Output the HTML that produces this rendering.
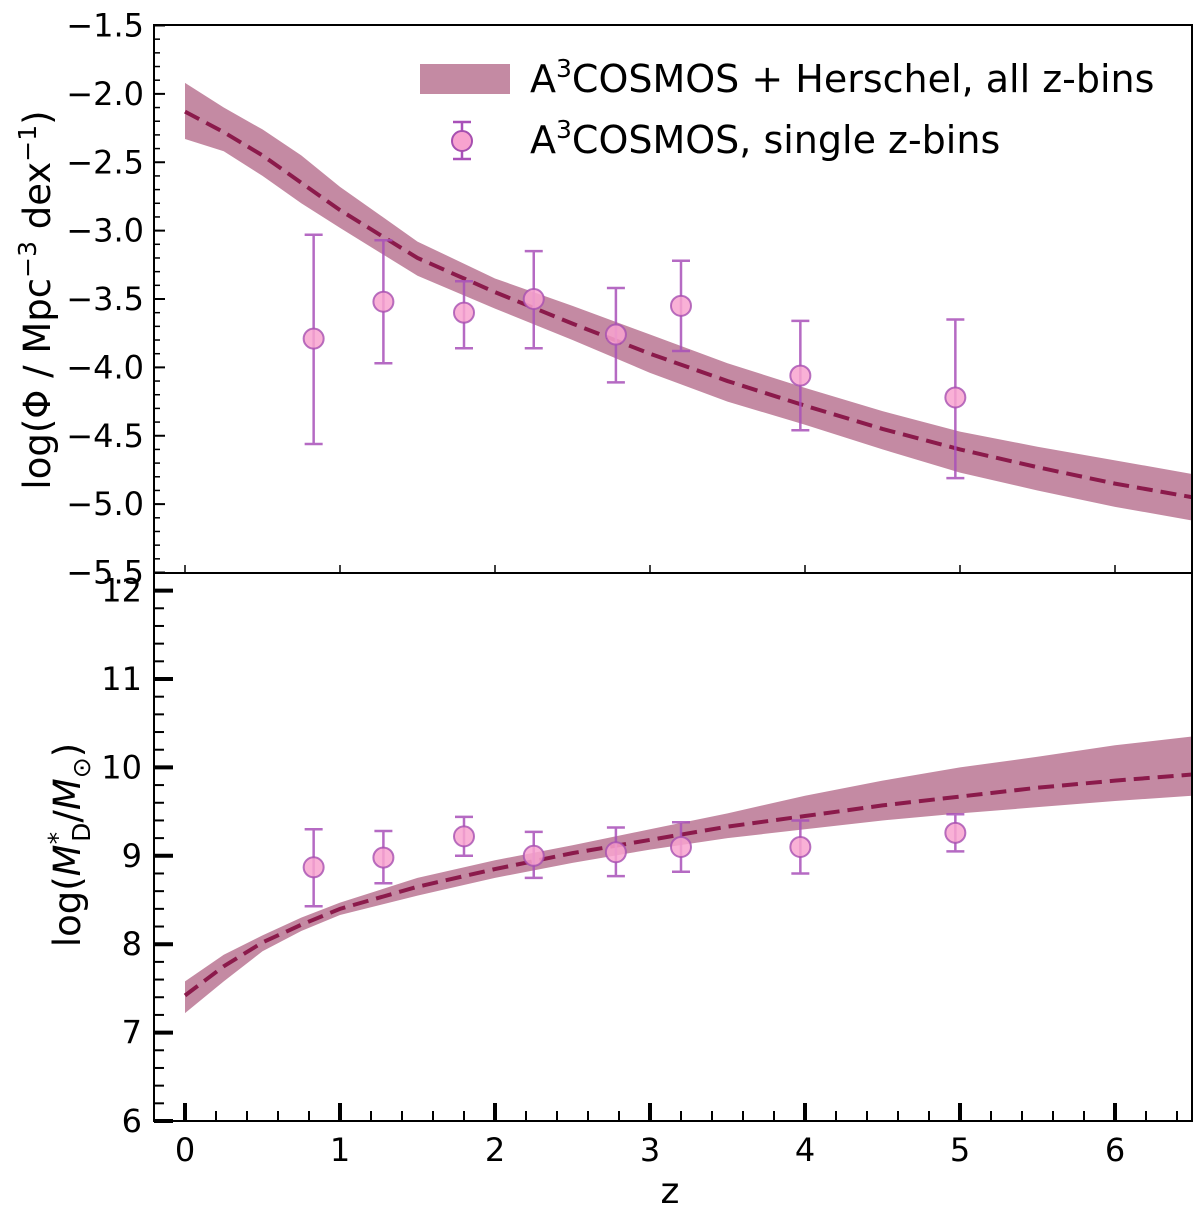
<!DOCTYPE html>
<html><head><meta charset="utf-8"><style>
body{margin:0;background:#fff}
svg{display:block;font-family:"DejaVu Sans","Liberation Sans",sans-serif}
</style></head><body>
<svg id="chart" width="1200" height="1213" viewBox="0 0 1200 1213" xmlns="http://www.w3.org/2000/svg"></svg>
<script>
const gridZ=[0,0.25,0.5,0.75,1,1.5,2,2.5,3,3.5,4,4.5,5,5.5,6,6.5];
const phiMed=[-2.13,-2.28,-2.45,-2.65,-2.85,-3.2,-3.45,-3.68,-3.9,-4.1,-4.28,-4.45,-4.6,-4.73,-4.85,-4.95];
const phiUp=[-1.92,-2.1,-2.26,-2.45,-2.68,-3.08,-3.35,-3.55,-3.76,-3.97,-4.15,-4.32,-4.47,-4.58,-4.68,-4.78];
const phiLo=[-2.33,-2.42,-2.6,-2.8,-2.98,-3.33,-3.57,-3.8,-4.04,-4.25,-4.42,-4.6,-4.77,-4.9,-5.02,-5.12];
const mMed=[7.42,7.75,8.02,8.22,8.4,8.65,8.85,9.03,9.18,9.33,9.45,9.57,9.67,9.77,9.85,9.92];
const mUp=[7.58,7.88,8.1,8.3,8.47,8.75,8.95,9.12,9.3,9.48,9.68,9.85,10,10.12,10.25,10.35];
const mLo=[7.22,7.58,7.92,8.15,8.33,8.55,8.75,8.92,9.07,9.2,9.3,9.4,9.48,9.55,9.62,9.68];
const ptZ=[0.83,1.28,1.8,2.25,2.78,3.2,3.97,4.97];
const ptPhi=[-3.79,-3.52,-3.6,-3.5,-3.76,-3.55,-4.06,-4.22];
const ptPhiHi=[-3.03,-3.07,-3.37,-3.15,-3.42,-3.22,-3.66,-3.65];
const ptPhiLo=[-4.56,-3.97,-3.86,-3.86,-4.11,-3.88,-4.46,-4.81];
const ptM=[8.87,8.98,9.22,9.0,9.04,9.1,9.1,9.26];
const ptMHi=[9.3,9.28,9.44,9.27,9.32,9.38,9.4,9.47];
const ptMLo=[8.43,8.69,9.0,8.75,8.77,8.82,8.8,9.05];
const topTicks=[-5.5,-5.0,-4.5,-4.0,-3.5,-3.0,-2.5,-2.0,-1.5];
const botTicks=[6,7,8,9,10,11,12];
const xTicks=[0,1,2,3,4,5,6];

const NS="http://www.w3.org/2000/svg";
const svg=document.getElementById('chart');
const L=154,R=1192,T=25,MID=573,B=1121;
const X=z=>185+z*155;
const Y1=v=>25.5+(-1.5-v)*(547/4);
const Y2=v=>1121-(v-6)*88.4;
const FS=32;
function el(t,a,p){const e=document.createElementNS(NS,t);for(const k in a)e.setAttribute(k,a[k]);(p||svg).appendChild(e);return e;}

function panel(name,Y,med,up,lo,pv,ph,pl){
  const g=el('g',{});
  
  
  let d='M'+gridZ.map((z,i)=>X(z)+','+Y(up[i])).join('L');
  for(let i=gridZ.length-1;i>=0;i--)d+='L'+X(gridZ[i])+','+Y(lo[i]);
  const band=el('path',{d:d+'Z',fill:'#c48aa3'},g);
  
  
  const line=el('path',{d:'M'+gridZ.map((z,i)=>X(z)+','+Y(med[i])).join('L'),fill:'none',stroke:'#8b1a4b','stroke-width':4,'stroke-dasharray':'16,8'},g);
  
  
  ptZ.forEach((z,i)=>{
    const x=X(z);
    const eb=el('path',{d:`M${x},${Y(ph[i])}V${Y(pl[i])}M${x-9},${Y(ph[i])}H${x+9}M${x-9},${Y(pl[i])}H${x+9}`,stroke:'#a850b8','stroke-width':2.5,fill:'none','stroke-opacity':0.85},g);
    
    
    const c=el('circle',{cx:x,cy:Y(pv[i]),r:10,fill:'#f8a3cf',stroke:'#a64fb0','stroke-width':2,'fill-opacity':0.85,'stroke-opacity':0.8},g);
    
    
  });
}
const defs=el('defs',{});
const cp1=el('clipPath',{id:'c1'},defs);el('rect',{x:L,y:T,width:R-L,height:MID-T},cp1);
const cp2=el('clipPath',{id:'c2'},defs);el('rect',{x:L,y:MID,width:R-L,height:B-MID},cp2);
panel('top-panel',Y1,phiMed,phiUp,phiLo,ptPhi,ptPhiHi,ptPhiLo);
svg.lastChild.setAttribute('clip-path','url(#c1)');
panel('bottom-panel',Y2,mMed,mUp,mLo,ptM,ptMHi,ptMLo);
svg.lastChild.setAttribute('clip-path','url(#c2)');

el('rect',{x:L,y:T,width:R-L,height:B-T,fill:'none',stroke:'#000','stroke-width':2});
el('line',{x1:L,y1:MID,x2:R,y2:MID,stroke:'#000','stroke-width':2});

for(let v=-5.5;v<=-1.45;v+=0.1){const y=Y1(v);el('line',{x1:L,y1:y,x2:L+6,y2:y,stroke:'#000','stroke-width':1.5});}
topTicks.forEach(v=>{const y=Y1(v);el('line',{x1:L,y1:y,x2:L+11,y2:y,stroke:'#000','stroke-width':2});
 const t=el('text',{x:L-10,y:y+11,'text-anchor':'end','font-size':FS},svg);t.textContent=v.toFixed(1).replace('-','−');
 });
for(let v=6;v<=12.2;v+=0.2){const y=Y2(v);el('line',{x1:L,y1:y,x2:L+10,y2:y,stroke:'#000','stroke-width':2});}
botTicks.forEach(v=>{const y=Y2(v);el('line',{x1:L,y1:y,x2:L+19,y2:y,stroke:'#000','stroke-width':4});
 const t=el('text',{x:L-12,y:y+11,'text-anchor':'end','font-size':FS});t.textContent=v;
 });
for(let z=0;z<=6.5;z+=0.2){const x=X(z);el('line',{x1:x,y1:B,x2:x,y2:B-10,stroke:'#000','stroke-width':2});}
xTicks.forEach(z=>{const x=X(z);el('line',{x1:x,y1:B,x2:x,y2:B-18,stroke:'#000','stroke-width':4});
 el('line',{x1:x,y1:MID,x2:x,y2:MID-8,stroke:'#000','stroke-width':1.5});
 const t=el('text',{x:x,y:B+40,'text-anchor':'middle','font-size':FS});t.textContent=z;
 });

let t=el('text',{x:670,y:1203,'text-anchor':'middle','font-size':36});t.textContent='z';

t=el('text',{transform:'translate(50,300) rotate(-90)','text-anchor':'middle','font-size':37});
t.innerHTML='log(Φ / Mpc<tspan dy="-14" font-size="25">−3</tspan><tspan dy="14"> dex</tspan><tspan dy="-14" font-size="25">−1</tspan><tspan dy="14">)</tspan>';

t=el('text',{transform:'translate(80,845) rotate(-90)','text-anchor':'middle','font-size':37});
t.innerHTML='log(<tspan font-style="italic">M</tspan><tspan dy="-14" font-size="25">*</tspan><tspan dx="-10" dy="24" font-size="25">D</tspan><tspan dy="-10">/</tspan><tspan font-style="italic">M</tspan><tspan dy="10" font-size="25">⊙</tspan><tspan dy="-10">)</tspan>';


const lg=el('g',{});

el('rect',{x:420,y:64,width:90,height:30,fill:'#c48aa3'},lg);
t=el('text',{x:530,y:92,'font-size':38},lg);
t.innerHTML='A<tspan dy="-15" font-size="25">3</tspan><tspan dy="15">COSMOS + Herschel, all z-bins</tspan>';

el('path',{d:'M462,122V159M453,122H471M453,159H471',stroke:'#a850b8','stroke-width':2.5,fill:'none'},lg);
el('circle',{cx:462,cy:141,r:10,fill:'#f8a3cf',stroke:'#a64fb0','stroke-width':2},lg);
t=el('text',{x:530,y:153,'font-size':38},lg);
t.innerHTML='A<tspan dy="-15" font-size="25">3</tspan><tspan dy="15">COSMOS, single z-bins</tspan>';

</script>
</body></html>
